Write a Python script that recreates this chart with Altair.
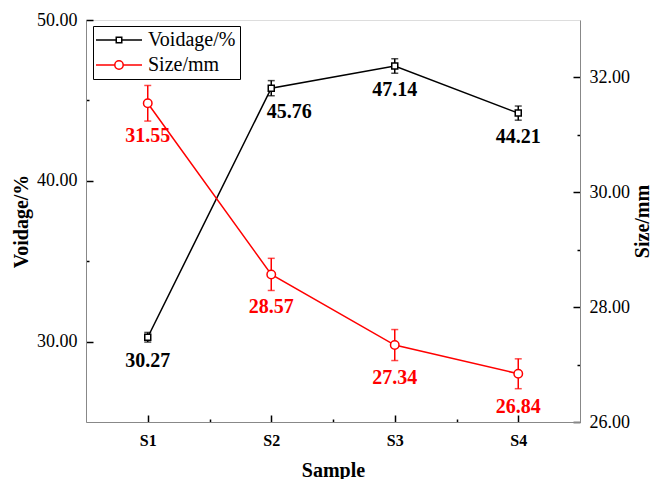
import altair as alt
import pandas as pd

samples = ["S1", "S2", "S3", "S4"]
sample_pos = [1, 2, 3, 4]
voidage = [30.27, 45.76, 47.14, 44.21]
voidage_err = [0.30, 0.47, 0.45, 0.44]
size_mm = [31.55, 28.57, 27.34, 26.84]
size_err = [0.31, 0.28, 0.27, 0.26]
series = ["Voidage/%", "Size/mm"]
x_ticks = [1, 1.5, 2, 2.5, 3, 3.5, 4]
left_ticks = [30, 35, 40, 45, 50]
right_ticks = [26, 27, 28, 29, 30, 31, 32]

FONT = "Liberation Serif"
W, H = 494, 402

vd = pd.DataFrame({
    "pos": sample_pos, "sample": samples, "v": voidage,
    "lo": [a - b for a, b in zip(voidage, voidage_err)],
    "hi": [a + b for a, b in zip(voidage, voidage_err)],
    "label": [f"{a:.2f}" for a in voidage],
})
sd = pd.DataFrame({
    "pos": sample_pos, "sample": samples, "v": size_mm,
    "lo": [a - b for a, b in zip(size_mm, size_err)],
    "hi": [a + b for a, b in zip(size_mm, size_err)],
    "label": [f"{a:.2f}" for a in size_mm],
})


def inward(major_test):
    return {"condition": {"test": major_test, "value": [7, 3000]}, "value": [3, 3000]}


def inward_x(major_test):
    return {"condition": {"test": major_test, "value": [0, H - 7, 7, 3000]},
            "value": [0, H - 3, 3, 3000]}


x_enc = alt.X("pos:Q", scale=alt.Scale(domain=[0.5, 4.5], nice=False, zero=False),
              axis=alt.Axis(title="Sample", values=x_ticks,
                            labelExpr="datum.value % 1 == 0 ? 'S' + datum.value : ''",
                            ticks=False, grid=True, gridColor="black", gridWidth=1.5,
                            gridDash=inward_x("datum.value % 1 == 0"),
                            labelFont=FONT, labelFontSize=16, labelFontWeight="bold",
                            labelPadding=10, titleFont=FONT, titleFontSize=20,
                            titleFontWeight="bold", titlePadding=12))

left_axis = alt.Axis(title="Voidage/%", values=left_ticks,
                     labelExpr="datum.value % 10 == 0 ? format(datum.value, '.2f') : ''",
                     ticks=False, grid=True, gridColor="black", gridWidth=1.5,
                     gridDash=inward("datum.value % 10 == 0"),
                     labelFont=FONT, labelFontSize=18, labelPadding=9,
                     titleFont=FONT, titleFontSize=20, titleFontWeight="bold", titlePadding=5)
right_axis = alt.Axis(title="Size/mm", orient="right", values=right_ticks,
                      labelExpr="datum.value % 2 == 0 ? format(datum.value, '.2f') : ''",
                      ticks=False, grid=True, gridColor="black", gridWidth=1.5,
                      gridDash=inward("datum.value % 2 == 0"),
                      labelFont=FONT, labelFontSize=18, labelPadding=9,
                      titleFont=FONT, titleFontSize=20, titleFontWeight="bold",
                      titleAngle=270, titleBaseline="top", titlePadding=3)

yl = alt.Y("v:Q", scale=alt.Scale(domain=[25, 50], nice=False, zero=False), axis=left_axis)
yl_lo = alt.Y("lo:Q", scale=alt.Scale(domain=[25, 50], nice=False, zero=False), axis=left_axis)
yr = alt.Y("v:Q", scale=alt.Scale(domain=[26, 33], nice=False, zero=False), axis=right_axis)
yr_lo = alt.Y("lo:Q", scale=alt.Scale(domain=[26, 33], nice=False, zero=False), axis=right_axis)

k = 4.6
sq_path = f"M{-k},0H-0.55M0.55,0H{k}M-0.55,-0.55H0.55V0.55H-0.55Z"
ci_path = "M{a},0H-0.84M0.84,0H{b}M-0.84,0A0.84,0.84,0,1,0,0.84,0A0.84,0.84,0,1,0,-0.84,0Z".format(a=-k, b=k)

base_v = alt.Chart(vd)
v_line = base_v.mark_line(color="black", strokeWidth=1.5).encode(x=x_enc, y=yl)
v_err = base_v.mark_rule(color="black", strokeWidth=1.5).encode(x=x_enc, y=yl_lo, y2="hi:Q")
v_cap_lo = base_v.mark_tick(color="black", thickness=1.5, size=7, orient="horizontal").encode(x=x_enc, y=yl_lo)
v_cap_hi = base_v.mark_tick(color="black", thickness=1.5, size=7, orient="horizontal").encode(
    x=x_enc, y=alt.Y("hi:Q", scale=alt.Scale(domain=[25, 50], nice=False, zero=False), axis=left_axis))
v_pts = base_v.mark_point(shape="square", size=36, filled=True, fill="white", stroke="black",
                          strokeWidth=1.5, opacity=1).encode(x=x_enc, y=yl)
v_txt = base_v.transform_filter("datum.sample != 'S2'").mark_text(
    font=FONT, fontSize=20, fontWeight="bold", color="black", dy=24).encode(x=x_enc, y=yl, text="label:N")
v_txt2 = base_v.transform_filter("datum.sample == 'S2'").mark_text(
    font=FONT, fontSize=20, fontWeight="bold", color="black", dy=24, dx=18).encode(x=x_enc, y=yl, text="label:N")
legend_layer = base_v.transform_calculate(series="'Voidage/%'").transform_filter("false").mark_point(
    filled=False, strokeWidth=1.5, opacity=1).encode(
    x=x_enc, y=yl,
    color=alt.Color("series:N", scale=alt.Scale(domain=series, range=["black", "red"]),
                    legend=alt.Legend(title=None, orient="none", legendX=7, legendY=6,
                                      symbolSize=100, symbolStrokeWidth=1.5, symbolOffset=12,
                                      labelFont=FONT, labelFontSize=20, labelOffset=19,
                                      strokeColor="black", padding=4, rowPadding=5,
                                      labelColor="black")),
    shape=alt.Shape("series:N", scale=alt.Scale(domain=series, range=[sq_path, ci_path])),
)

left = alt.layer(v_line, v_err, v_cap_lo, v_cap_hi, v_pts, v_txt, v_txt2, legend_layer)

base_s = alt.Chart(sd)
s_line = base_s.mark_line(color="red", strokeWidth=1.5).encode(x=x_enc, y=yr)
s_err = base_s.mark_rule(color="red", strokeWidth=1.5).encode(x=x_enc, y=yr_lo, y2="hi:Q")
s_cap_lo = base_s.mark_tick(color="red", thickness=1.5, size=7, orient="horizontal").encode(x=x_enc, y=yr_lo)
s_cap_hi = base_s.mark_tick(color="red", thickness=1.5, size=7, orient="horizontal").encode(
    x=x_enc, y=alt.Y("hi:Q", scale=alt.Scale(domain=[26, 33], nice=False, zero=False), axis=right_axis))
s_pts = base_s.mark_point(shape="circle", size=72, filled=True, fill="white", stroke="red",
                          strokeWidth=1.5, opacity=1).encode(x=x_enc, y=yr)
s_txt = base_s.mark_text(font=FONT, fontSize=20, fontWeight="bold", color="red", dy=33).encode(
    x=x_enc, y=yr, text="label:N")

right = alt.layer(s_line, s_err, s_cap_lo, s_cap_hi, s_pts, s_txt)

chart = alt.layer(left, right).resolve_scale(y="independent").properties(
    width=W, height=H,
    autosize=alt.AutoSizeParams(type="none"),
    padding={"left": 86, "top": 20, "right": 73, "bottom": 57},
).configure_view(stroke="black", strokeWidth=1.5).configure_axis(
    domainColor="black", domainWidth=1.5, labelColor="black", titleColor="black"
).configure(background="white")

chart.save("out.html", embed_options={"renderer": "svg", "actions": False})
